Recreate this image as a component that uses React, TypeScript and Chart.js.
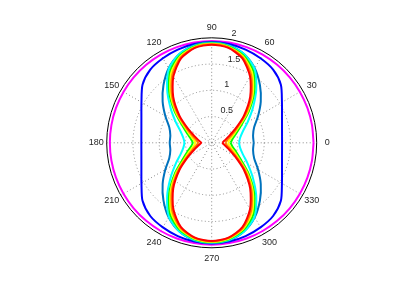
import React, { useEffect, useRef } from 'react';
import { Chart, registerables } from 'chart.js';

Chart.register(...registerables);

// angle (degrees) of each sample
const angles = [0, 10, 20, 30, 40, 50, 60, 70, 80, 90, 100, 110, 120, 130, 140, 150, 160, 170, 180,
  190, 200, 210, 220, 230, 240, 250, 260, 270, 280, 290, 300, 310, 320, 330, 340, 350, 360];

const magentaR = [1.94, 1.94, 1.94, 1.94, 1.94, 1.94, 1.94, 1.94, 1.94, 1.94, 1.94, 1.94, 1.94, 1.94, 1.94, 1.94, 1.94, 1.94, 1.94,
  1.94, 1.94, 1.94, 1.94, 1.94, 1.94, 1.94, 1.94, 1.94, 1.94, 1.94, 1.94, 1.94, 1.94, 1.94, 1.94, 1.94, 1.94];
const blueR = [1.34, 1.36, 1.425, 1.545, 1.72, 1.82, 1.86, 1.89, 1.91, 1.92, 1.91, 1.89, 1.86, 1.82, 1.72, 1.545, 1.425, 1.36, 1.34,
  1.36, 1.425, 1.545, 1.72, 1.82, 1.86, 1.89, 1.91, 1.92, 1.91, 1.89, 1.86, 1.82, 1.72, 1.545, 1.425, 1.36, 1.34];
const steelR = [0.80, 0.80, 0.86, 1.02, 1.22, 1.43, 1.64, 1.80, 1.89, 1.915, 1.89, 1.80, 1.64, 1.43, 1.22, 1.02, 0.86, 0.80, 0.80,
  0.80, 0.86, 1.02, 1.22, 1.43, 1.64, 1.80, 1.89, 1.915, 1.89, 1.80, 1.64, 1.43, 1.22, 1.02, 0.86, 0.80, 0.80];
const cyanR = [0.52, 0.55, 0.63, 0.79, 1.02, 1.32, 1.63, 1.80, 1.88, 1.90, 1.88, 1.80, 1.63, 1.32, 1.02, 0.79, 0.63, 0.55, 0.52,
  0.55, 0.63, 0.79, 1.02, 1.32, 1.63, 1.80, 1.88, 1.90, 1.88, 1.80, 1.63, 1.32, 1.02, 0.79, 0.63, 0.55, 0.52];
const greenR = [0.36, 0.40, 0.49, 0.64, 0.92, 1.26, 1.58, 1.77, 1.865, 1.89, 1.865, 1.77, 1.58, 1.26, 0.92, 0.64, 0.49, 0.40, 0.36,
  0.40, 0.49, 0.64, 0.92, 1.26, 1.58, 1.77, 1.865, 1.89, 1.865, 1.77, 1.58, 1.26, 0.92, 0.64, 0.49, 0.40, 0.36];
const yellowR = [0.31, 0.35, 0.44, 0.59, 0.88, 1.22, 1.54, 1.75, 1.855, 1.885, 1.855, 1.75, 1.54, 1.22, 0.88, 0.59, 0.44, 0.35, 0.31,
  0.35, 0.44, 0.59, 0.88, 1.22, 1.54, 1.75, 1.855, 1.885, 1.855, 1.75, 1.54, 1.22, 0.88, 0.59, 0.44, 0.35, 0.31];
const orangeR = [0.26, 0.30, 0.39, 0.55, 0.84, 1.18, 1.50, 1.73, 1.845, 1.875, 1.845, 1.73, 1.50, 1.18, 0.84, 0.55, 0.39, 0.30, 0.26,
  0.30, 0.39, 0.55, 0.84, 1.18, 1.50, 1.73, 1.845, 1.875, 1.845, 1.73, 1.50, 1.18, 0.84, 0.55, 0.39, 0.30, 0.26];
const redR = [0.20, 0.25, 0.34, 0.51, 0.80, 1.14, 1.46, 1.71, 1.835, 1.87, 1.835, 1.71, 1.46, 1.14, 0.80, 0.51, 0.34, 0.25, 0.20,
  0.25, 0.34, 0.51, 0.80, 1.14, 1.46, 1.71, 1.835, 1.87, 1.835, 1.71, 1.46, 1.14, 0.80, 0.51, 0.34, 0.25, 0.20];

const seriesValues = [magentaR, blueR, steelR, cyanR, greenR, yellowR, orangeR, redR];
const seriesColors = ['#ff00ff', '#0000ff', '#0072bd', '#00ffff', '#00ff00', '#ffff00', '#ff8000', '#ff0000'];

const angleTicks = [0, 30, 60, 90, 120, 150, 180, 210, 240, 270, 300, 330];
const ringTicks = [0.5, 1, 1.5, 2];
const rMax = 2;

const toXY = (r: number[]) =>
  r.map((v, i) => ({ x: v * Math.cos((angles[i] * Math.PI) / 180), y: v * Math.sin((angles[i] * Math.PI) / 180) }));

const polarGrid = {
  id: 'polarGrid',
  beforeDatasetsDraw(chart: any) {
    const { ctx } = chart;
    const xs = chart.scales.x;
    const ys = chart.scales.y;
    const cx = xs.getPixelForValue(0);
    const cy = ys.getPixelForValue(0);
    const R = xs.getPixelForValue(rMax) - cx;
    ctx.save();
    ctx.strokeStyle = '#8a8a8a';
    ctx.lineWidth = 1;
    ctx.setLineDash([1, 2.5]);
    ringTicks.filter((t) => t < rMax).forEach((t) => {
      const rr = xs.getPixelForValue(t) - cx;
      ctx.beginPath();
      ctx.arc(cx, cy, rr, 0, Math.PI * 2);
      ctx.stroke();
    });
    for (let a = 0; a < 180; a += 30) {
      const c = Math.cos((a * Math.PI) / 180);
      const s = Math.sin((a * Math.PI) / 180);
      ctx.beginPath();
      ctx.moveTo(cx - R * c, cy + R * s);
      ctx.lineTo(cx + R * c, cy - R * s);
      ctx.stroke();
    }
    ctx.setLineDash([]);
    ctx.strokeStyle = '#000';
    ctx.lineWidth = 1;
    ctx.beginPath();
    ctx.arc(cx, cy, R, 0, Math.PI * 2);
    ctx.stroke();
    ctx.restore();
  },
  afterDraw(chart: any) {
    const { ctx } = chart;
    const xs = chart.scales.x;
    const ys = chart.scales.y;
    const cx = xs.getPixelForValue(0);
    const cy = ys.getPixelForValue(0);
    const unit = xs.getPixelForValue(1) - cx;
    ctx.save();
    ctx.fillStyle = '#262626';
    ctx.font = '9px "Liberation Sans", Arial, sans-serif';
    ctx.textAlign = 'center';
    ctx.textBaseline = 'middle';
    angleTicks.forEach((a) => {
      const rr = 1.1 * rMax * unit;
      const ang = (a * Math.PI) / 180;
      ctx.fillText(String(a), cx + rr * Math.cos(ang), cy - rr * Math.sin(ang));
    });
    ctx.textAlign = 'left';
    ctx.textBaseline = 'bottom';
    const a82 = (82 * Math.PI) / 180;
    ringTicks.forEach((t) => {
      const rr = (t + 0.025) * unit;
      ctx.fillText('  ' + String(t), cx + rr * Math.cos(a82), cy - rr * Math.sin(a82));
    });
    ctx.restore();
  },
};

export default function App() {
  const ref = useRef<HTMLCanvasElement | null>(null);
  useEffect(() => {
    document.body.style.margin = '0';
    const canvas = ref.current;
    if (!canvas) return;
    const chart = new Chart(canvas, {
      type: 'scatter',
      data: {
        datasets: seriesValues.map((vals, i) => ({
          label: 's' + i,
          data: toXY(vals),
          showLine: true,
          borderColor: seriesColors[i],
          backgroundColor: seriesColors[i],
          borderWidth: 2,
          pointRadius: 0,
          tension: 0.25,
          fill: false,
          clip: false,
          order: seriesValues.length - i,
        })),
      },
      options: {
        responsive: false,
        animation: false,
        devicePixelRatio: 1,
        layout: { padding: { left: 106.7, right: 92.3, top: 37.8, bottom: 49.2 } },
        plugins: { legend: { display: false }, tooltip: { enabled: false } },
        scales: {
          x: { type: 'linear', min: -rMax, max: rMax, display: false },
          y: { type: 'linear', min: -rMax, max: rMax, display: false },
        },
      },
      plugins: [polarGrid],
    } as any);
    return () => chart.destroy();
  }, []);
  return (
    <div style={{ width: 409, height: 297 }}>
      <canvas ref={ref} width={409} height={297} style={{ display: 'block' }} />
    </div>
  );
}
